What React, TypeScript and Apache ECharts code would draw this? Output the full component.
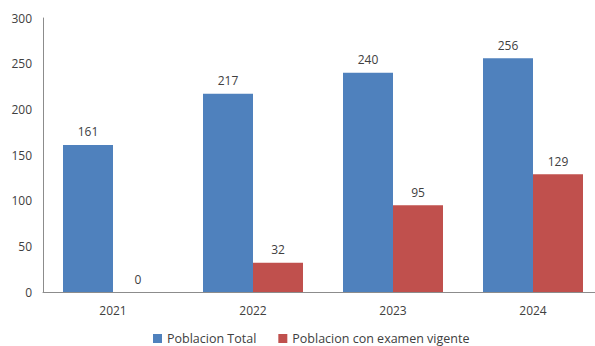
import React, { useEffect, useRef } from "react";
import * as echarts from "echarts";

const categories = ["2021", "2022", "2023", "2024"];
const poblacionTotal = [161, 217, 240, 256];
const poblacionExamen = [0, 32, 95, 129];
const seriesNames = ["Poblacion Total", "Poblacion con examen vigente"];

const FONT = "'Open Sans', 'Noto Sans', sans-serif";

export default function App() {
  const ref = useRef<HTMLDivElement>(null);
  useEffect(() => {
    document.body.style.margin = "0";
    if (!ref.current) return;
    const chart = echarts.init(ref.current, null, { renderer: "svg" });
    chart.setOption({
      animation: false,
      backgroundColor: "#ffffff",
      textStyle: { fontFamily: FONT },
      grid: { left: 43, top: 18, bottom: 54, width: 560, outerBoundsMode: "none", containLabel: false },
      legend: {
        bottom: 1,
        left: 153,
        padding: 0,
        itemWidth: 9,
        itemHeight: 9,
        itemGap: 22,
        icon: "rect",
        textStyle: { fontSize: 12.5, color: "#404040", fontFamily: FONT },
        data: seriesNames,
      },
      xAxis: {
        type: "category",
        data: categories,
        axisLine: { lineStyle: { color: "#8c8c8c", width: 1 } },
        axisTick: { show: false },
        axisLabel: { color: "#404040", fontSize: 12, margin: 12, fontFamily: FONT },
      },
      yAxis: {
        type: "value",
        min: 0,
        max: 300,
        interval: 50,
        splitLine: { show: false },
        axisLine: { show: true, lineStyle: { color: "#8c8c8c", width: 1 } },
        axisTick: { show: false },
        axisLabel: { color: "#404040", fontSize: 12, margin: 11, fontFamily: FONT },
      },
      series: [
        {
          name: seriesNames[0],
          type: "bar",
          data: poblacionTotal,
          barWidth: 50,
          barGap: "0%",
          itemStyle: { color: "#4F81BD" },
          label: { show: true, position: "top", distance: 7, color: "#404040", fontSize: 12, fontFamily: FONT },
        },
        {
          name: seriesNames[1],
          type: "bar",
          data: poblacionExamen,
          barWidth: 50,
          barGap: "0%",
          itemStyle: { color: "#C0504D" },
          label: { show: true, position: "top", distance: 7, color: "#404040", fontSize: 12, fontFamily: FONT },
        },
      ],
    });
    return () => chart.dispose();
  }, []);
  return <div ref={ref} style={{ width: 595, height: 346 }} />;
}
